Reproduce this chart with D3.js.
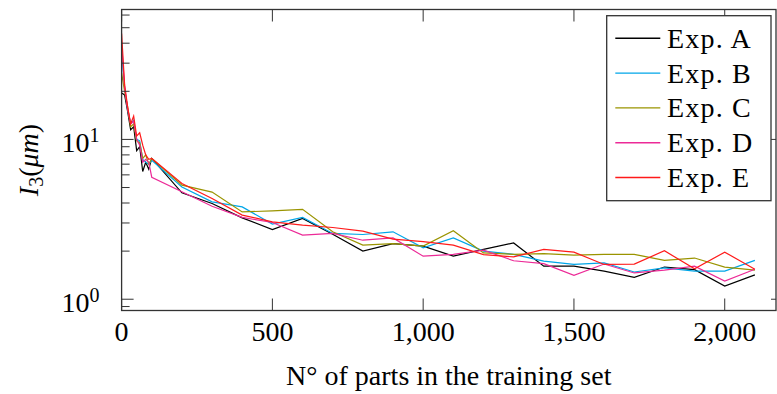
<!DOCTYPE html>
<html>
<head>
<meta charset="utf-8">
<script src="https://cdn.jsdelivr.net/npm/d3@7"></script>
<style>
body { margin: 0; background: #fff; }
text { font-family: "Liberation Serif", "DejaVu Serif", serif; fill: #000; }
</style>
</head>
<body>
<div id="chart"></div>
<script>
// training set sizes
var parts = [0, 10, 20, 30, 40, 50, 60, 70, 80, 90, 100,
  200, 300, 400, 500, 600, 700, 800, 900, 1000, 1100,
  1200, 1300, 1400, 1500, 1600, 1700, 1800, 1900, 2000, 2100]

var expA = [19.5, 19, 15, 11.5, 12, 8.5, 9, 6.3, 7.2, 6.5, 7.6,
  4.63, 3.97, 3.23, 2.73, 3.2, 2.55, 2.0, 2.23, 2.15, 1.86,
  2.05, 2.25, 1.61, 1.61, 1.50, 1.37, 1.59, 1.53, 1.21, 1.42]
var expB = [35, 21, 15.5, 12.5, 13.2, 10, 9.8, 7.5, 7.2, 7.0, 7.4,
  5.04, 4.07, 3.78, 2.95, 3.25, 2.58, 2.54, 2.64, 2.10, 2.42,
  2.0, 1.91, 1.73, 1.65, 1.69, 1.48, 1.57, 1.50, 1.50, 1.75]
var expC = [26, 20, 16, 12, 12.5, 9.8, 9.5, 7.6, 8.0, 7.0, 7.6,
  5.17, 4.68, 3.52, 3.57, 3.65, 2.64, 2.18, 2.23, 2.15, 2.68,
  1.95, 1.91, 1.93, 1.89, 1.91, 1.91, 1.75, 1.81, 1.59, 1.52]
var expD = [40, 21, 15.5, 12.5, 13, 10, 9.2, 7.2, 7.5, 7.2, 5.8,
  4.7, 3.82, 3.25, 3.02, 2.52, 2.58, 2.34, 2.42, 1.86, 1.91,
  2.03, 1.74, 1.67, 1.41, 1.66, 1.46, 1.52, 1.61, 1.30, 1.54]
var expE = [46, 22, 16, 12.5, 14, 10.5, 11, 9.2, 8.0, 7.5, 7.6,
  5.3, 4.27, 3.36, 3.05, 2.91, 2.81, 2.67, 2.38, 2.29, 2.18,
  1.9, 1.84, 2.05, 1.97, 1.65, 1.66, 2.01, 1.55, 1.97, 1.54]

var seriesNames = ["Exp. A", "Exp. B", "Exp. C", "Exp. D", "Exp. E"]
var seriesData = [expA, expB, expC, expD, expE]
var colors = ["#000000", "#00a6e8", "#9a9400", "#ec2a97", "#ff1a1a"]

var xTicks = [0, 500, 1000, 1500, 2000]
var yTicks = [1, 10]

var width = 777, height = 394
var plotLeft = 121.6, plotRight = 776, plotTop = 9.5, plotBottom = 310.5

var svg = d3.select("#chart").append("svg")
  .attr("width", width)
  .attr("height", height)

var x = d3.scaleLinear().domain([0, 2170]).range([plotLeft, plotRight])
var y = d3.scaleLog().domain([0.85, 65]).range([plotBottom, plotTop])

// minor ticks on the log axis
var yMinor = [0.9, 2, 3, 4, 5, 6, 7, 8, 9, 20, 30, 40, 50, 60]

var axisColor = "#333"

// data lines
var line = d3.line()
  .x(function(d) { return x(d[0]) })
  .y(function(d) { return y(d[1]) })

seriesData.forEach(function(vals, i) {
  svg.append("path")
    .datum(parts.map(function(p, j) { return [p, vals[j]] }))
    .attr("d", line)
    .attr("fill", "none")
    .attr("stroke", colors[i])
    .attr("stroke-width", 1.2)
    .attr("stroke-linejoin", "miter")
})

// ticks, drawn inward like pgfplots
var g = svg.append("g").attr("stroke", axisColor).attr("stroke-width", 1)

g.selectAll(".xt").data(xTicks).enter().append("line")
  .attr("x1", function(d) { return x(d) }).attr("x2", function(d) { return x(d) })
  .attr("y1", plotBottom).attr("y2", plotBottom - 12)
g.selectAll(".xtt").data(xTicks).enter().append("line")
  .attr("x1", function(d) { return x(d) }).attr("x2", function(d) { return x(d) })
  .attr("y1", plotTop).attr("y2", plotTop + 12)

g.selectAll(".yt").data(yTicks).enter().append("line")
  .attr("x1", plotLeft).attr("x2", plotLeft + 12)
  .attr("y1", function(d) { return y(d) }).attr("y2", function(d) { return y(d) })
g.selectAll(".ym").data(yMinor).enter().append("line")
  .attr("x1", plotLeft).attr("x2", plotLeft + 8)
  .attr("y1", function(d) { return y(d) }).attr("y2", function(d) { return y(d) })
g.selectAll(".ytr").data(yTicks).enter().append("line")
  .attr("x1", plotRight).attr("x2", plotRight - 5)
  .attr("y1", function(d) { return y(d) }).attr("y2", function(d) { return y(d) })

// frame
svg.append("rect")
  .attr("x", plotLeft).attr("y", plotTop)
  .attr("width", plotRight - plotLeft).attr("height", plotBottom - plotTop)
  .attr("fill", "none")
  .attr("stroke", axisColor)
  .attr("stroke-width", 1.3)

// x tick labels
var fmt = d3.format(",")
svg.selectAll(".xl").data(xTicks).enter().append("text")
  .attr("x", function(d) { return x(d) })
  .attr("y", plotBottom + 30)
  .attr("text-anchor", "middle")
  .style("font-size", "28px")
  .text(function(d) { return fmt(d) })

// y tick labels as 10^k
yTicks.forEach(function(d) {
  var t = svg.append("text")
    .attr("x", plotLeft - 22)
    .attr("y", y(d) + 13)
    .attr("text-anchor", "end")
    .style("font-size", "28px")
  t.append("tspan").text("10")
  t.append("tspan").attr("dy", -10).style("font-size", "20px").text(Math.round(Math.log10(d)))
})

// axis titles
svg.append("text")
  .attr("x", (plotLeft + plotRight) / 2)
  .attr("y", 385)
  .attr("text-anchor", "middle")
  .style("font-size", "28px")
  .text("N° of parts in the training set")

var yl = svg.append("text")
  .attr("transform", "translate(38," + ((plotTop + plotBottom) / 2) + ") rotate(-90)")
  .attr("text-anchor", "middle")
  .style("font-size", "28px")
yl.append("tspan").style("font-style", "italic").text("I")
yl.append("tspan").attr("dy", 5).style("font-size", "20px").text("3")
yl.append("tspan").attr("dy", -5).text("(")
yl.append("tspan").style("font-style", "italic").text("μm")
yl.append("tspan").text(")")

// legend
var lx = 606.7, ly = 15.7
svg.append("rect")
  .attr("x", lx).attr("y", ly)
  .attr("width", 164.3).attr("height", 185)
  .attr("fill", "#fff")
  .attr("stroke", axisColor)
  .attr("stroke-width", 1.3)

var leg = svg.selectAll(".leg").data(seriesNames).enter().append("g")
  .attr("transform", function(d, i) { return "translate(0," + (38.3 + i * 34.8) + ")" })
leg.append("line")
  .attr("x1", 615.3).attr("x2", 660.3)
  .attr("y1", 0).attr("y2", 0)
  .style("stroke", function(d, i) { return colors[i] })
  .attr("stroke-width", 1.4)
leg.append("text")
  .attr("x", 667)
  .attr("y", 9.5)
  .style("font-size", "28px")
  .style("letter-spacing", "1.2px")
  .text(function(d) { return d })
</script>
</body>
</html>
